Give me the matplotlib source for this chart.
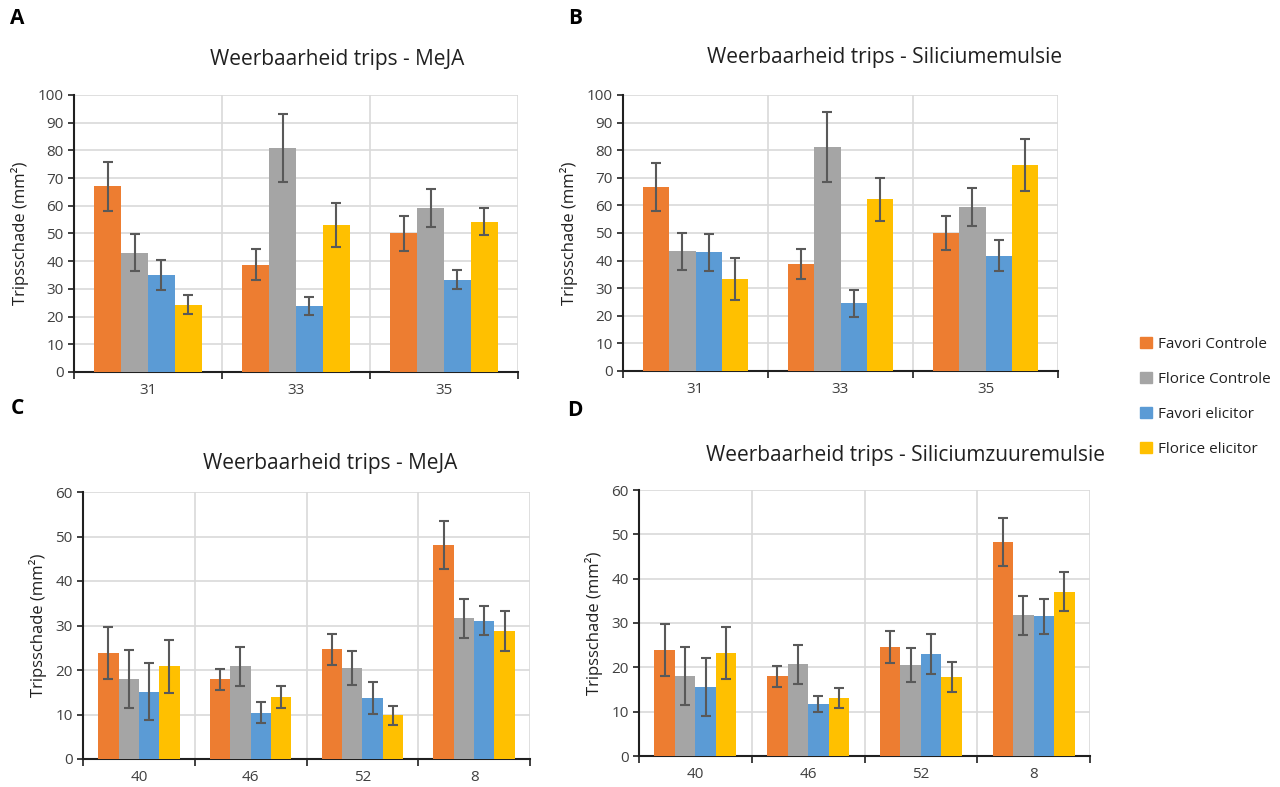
import numpy as np
import matplotlib.pyplot as plt

plt.rcParams['font.family'] = ['Open Sans', 'DejaVu Sans']

series = ['Favori Controle', 'Florice Controle', 'Favori elicitor', 'Florice elicitor']
colors = ['#ED7D31', '#A5A5A5', '#5B9BD5', '#FFC000']

weeks_top = ['31', '33', '35']
weeks_bottom = ['40', '46', '52', '8']

# panel A - MeJA (weeks 31-35)
a_vals = [[67.0, 38.8, 50.0], [43.0, 81.0, 59.3], [35.0, 23.7, 33.3], [24.3, 53.0, 54.3]]
a_err = [[8.7, 5.5, 6.4], [6.7, 12.3, 6.9], [5.5, 3.2, 3.4], [3.5, 8.0, 5.0]]
# panel B - Siliciumemulsie (weeks 31-35)
b_vals = [[66.7, 38.8, 50.0], [43.3, 81.0, 59.3], [43.0, 24.5, 41.8], [33.3, 62.2, 74.5]]
b_err = [[8.8, 5.5, 6.3], [6.8, 12.7, 6.9], [6.6, 4.9, 5.5], [7.7, 7.9, 9.4]]
# panel C - MeJA (weeks 40-8)
c_vals = [[23.8, 17.9, 24.7, 48.1], [18.0, 20.8, 20.5, 31.6], [15.1, 10.4, 13.7, 31.1], [20.8, 13.9, 9.8, 28.7]]
c_err = [[5.9, 2.4, 3.5, 5.4], [6.5, 4.3, 3.8, 4.3], [6.4, 2.3, 3.6, 3.2], [5.9, 2.5, 2.2, 4.5]]
# panel D - Siliciumzuuremulsie (weeks 40-8)
d_vals = [[23.9, 18.0, 24.6, 48.3], [18.0, 20.7, 20.5, 31.7], [15.6, 11.8, 23.0, 31.5], [23.2, 13.1, 17.8, 37.1]]
d_err = [[5.9, 2.4, 3.6, 5.4], [6.5, 4.4, 3.8, 4.3], [6.6, 1.8, 4.5, 4.0], [5.8, 2.3, 3.4, 4.4]]

W, H = 1280, 787
fig = plt.figure(figsize=(W / 100, H / 100), dpi=100)


def px_axes(x0, y0, x1, y1):
    return fig.add_axes([x0 / W, 1 - y1 / H, (x1 - x0) / W, (y1 - y0) / H])


def panel(ax, cats, vals, errs, ymax, title, letter, title_xy, letter_xy):
    n = len(cats)
    x = np.arange(n)
    bw = 0.182
    for i in range(4):
        ax.bar(x + (i - 1.5) * bw, vals[i], bw, color=colors[i], zorder=3,
               yerr=errs[i], error_kw=dict(ecolor='#595959', elinewidth=1.5, capsize=3.5,
                                           capthick=1.5, zorder=4), label=series[i])
    ax.set_xlim(-0.5, n - 0.5)
    ax.set_ylim(0, ymax)
    ax.set_yticks(np.arange(0, ymax + 1, 10))
    ax.set_xticks(x)
    ax.set_xticklabels(cats)
    ax.set_xticks(np.arange(n + 1) - 0.5, minor=True)
    ax.tick_params(axis='x', which='major', length=0, pad=8, labelsize=11, colors='#404040')
    ax.tick_params(axis='x', which='minor', length=5, width=1.2, direction='out', color='#202020')
    ax.tick_params(axis='y', length=4, width=1.2, color='#202020', labelsize=11, labelcolor='#404040')
    ax.grid(axis='y', color='#D9D9D9', linewidth=1.2, zorder=0)
    ax.grid(axis='x', which='minor', color='#D9D9D9', linewidth=1.2, zorder=0)
    ax.grid(axis='x', which='major', visible=False)
    for s in ['top', 'right']:
        ax.spines[s].set_visible(False)
    for s in ['left', 'bottom']:
        ax.spines[s].set_color('#202020')
        ax.spines[s].set_linewidth(1.5)
    ax.set_ylabel('Tripsschade (mm²)', fontsize=12, color='#202020', labelpad=6)
    fig.text(title_xy[0] / W, 1 - title_xy[1] / H, title, ha='center', va='center',
             fontsize=15, color='#202020')
    fig.text(letter_xy[0] / W, 1 - letter_xy[1] / H, letter, ha='center', va='center',
             fontsize=15, fontweight='bold', color='black')


axA = px_axes(74, 95, 518, 372)
panel(axA, weeks_top, a_vals, a_err, 100, 'Weerbaarheid trips - MeJA', 'A', (337, 60), (17, 18))
axB = px_axes(623, 95, 1058, 371)
panel(axB, weeks_top, b_vals, b_err, 100, 'Weerbaarheid trips - Siliciumemulsie', 'B', (885, 58), (575, 18))
axC = px_axes(83, 492, 530, 759)
panel(axC, weeks_bottom, c_vals, c_err, 60, 'Weerbaarheid trips - MeJA', 'C', (330, 463), (17, 408))
axD = px_axes(639, 490, 1090, 756)
panel(axD, weeks_bottom, d_vals, d_err, 60, 'Weerbaarheid trips - Siliciumzuuremulsie', 'D', (906, 455), (575, 410))

handles = [plt.Rectangle((0, 0), 1, 1, color=c) for c in colors]
fig.legend(handles, series, loc='upper left', bbox_to_anchor=(1126 / W, 1 - 323 / H),
           frameon=False, fontsize=11, handlelength=0.8, handleheight=0.8,
           labelspacing=1.3, handletextpad=0.4, labelcolor='#202020')

fig.savefig('out.png', dpi=100)
